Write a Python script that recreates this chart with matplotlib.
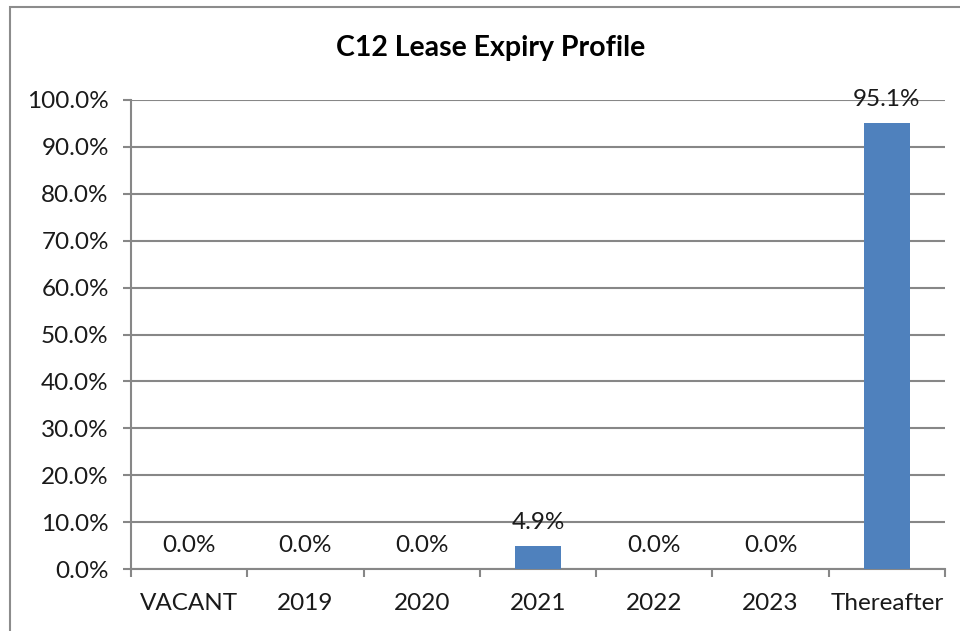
import numpy as np
import matplotlib.pyplot as plt
from matplotlib.patches import Rectangle
from matplotlib.ticker import FuncFormatter

# --- Data ---
categories = ['VACANT', '2019', '2020', '2021', '2022', '2023', 'Thereafter']
expiry_pct = [0.0, 0.0, 0.0, 4.9, 0.0, 0.0, 95.1]
y_ticks = [0, 10, 20, 30, 40, 50, 60, 70, 80, 90, 100]

bar_color = '#4F81BD'
grid_color = '#878787'
font = 'Lato'
fs = 17.5

# --- Plot ---
fig = plt.figure(figsize=(9.6, 6.31), dpi=100)
ax = fig.add_axes([131 / 960, 1 - 569 / 631, (945 - 131) / 960, (569 - 100) / 631])

x = np.arange(len(categories))
ax.bar(x, expiry_pct, width=0.4, color=bar_color, zorder=3)

for xi, v in zip(x, expiry_pct):
    ax.annotate(f'{v:.1f}%', (xi, v), xytext=(0, 9.5), textcoords='offset points',
                ha='center', va='bottom', fontsize=fs, family=font, color='#1a1a1a')

ax.set_xlim(-0.5, len(categories) - 0.5)
ax.set_ylim(0, 100)
ax.set_yticks(y_ticks)
ax.yaxis.set_major_formatter(FuncFormatter(lambda v, p: f'{v:.1f}%'))
ax.yaxis.grid(True, color=grid_color, linewidth=1.5, zorder=0)
ax.set_axisbelow(True)

ax.set_xticks(x)
ax.set_xticklabels(categories)
ax.set_xticks(np.arange(len(categories) + 1) - 0.5, minor=True)
ax.tick_params(axis='x', which='major', length=0, pad=17, labelsize=fs)
ax.tick_params(axis='x', which='minor', length=6, width=1.5, color=grid_color)
ax.tick_params(axis='y', length=6, width=1.5, color=grid_color, pad=10, labelsize=fs)
for lbl in ax.get_xticklabels() + ax.get_yticklabels():
    lbl.set_family(font)
    lbl.set_color('#1a1a1a')

for side in ['top', 'right']:
    ax.spines[side].set_visible(False)
for side in ['left', 'bottom']:
    ax.spines[side].set_color(grid_color)
    ax.spines[side].set_linewidth(1.5)

fig.text(491 / 960, 1 - 48 / 631, 'C12 Lease Expiry Profile', ha='center', va='center',
         fontsize=20.5, fontweight='bold', family=font)

# chart border
fig.patches.append(Rectangle((9.5 / 960, -0.1), 1.2, 1 - 6.5 / 631 + 0.1, transform=fig.transFigure,
                             fill=False, edgecolor='#8c8c8c', linewidth=1.5))

fig.savefig('out.png', dpi=100)
